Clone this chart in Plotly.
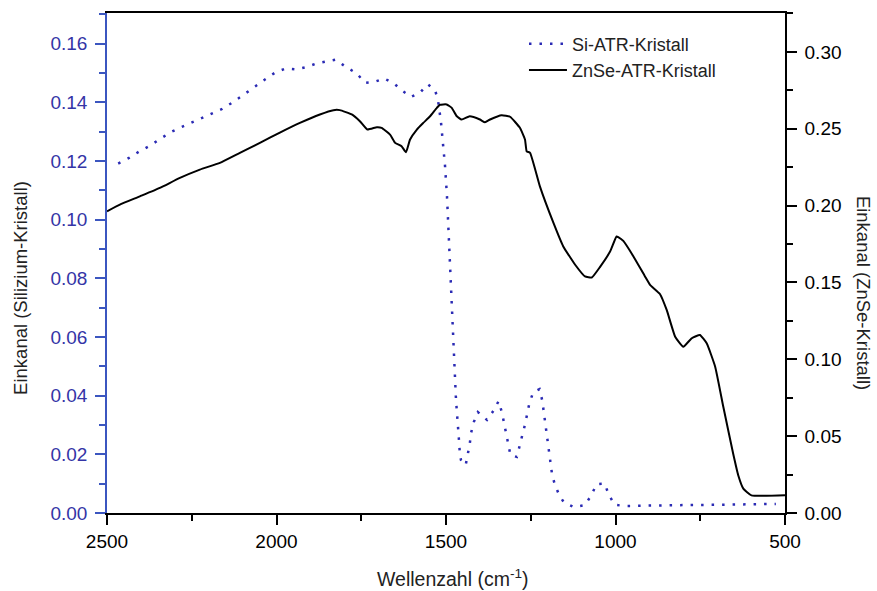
import plotly.graph_objects as go

# ---- data ----
si_wn = [2467, 2435, 2405, 2373, 2342, 2310, 2279, 2247, 2216, 2184, 2162, 2130, 2099, 2067,
         2036, 2004, 1973, 1942, 1911, 1880, 1847, 1825, 1795, 1763, 1739, 1712, 1682, 1652,
         1626, 1603, 1577, 1554, 1532, 1523, 1515, 1508, 1503, 1497, 1478, 1476, 1474, 1471,
         1469, 1466, 1462, 1460, 1456, 1442, 1435, 1430, 1426, 1418, 1406, 1379, 1359, 1345,
         1335, 1329, 1324, 1318, 1310, 1291, 1282, 1275, 1267, 1260, 1254, 1243, 1224, 1216,
         1212, 1208, 1203, 1199, 1196, 1192, 1187, 1178, 1165, 1152, 1122, 1090, 1071, 1056,
         1032, 1020, 1003, 973, 908, 800, 700, 600, 527]
si_val = [0.1191, 0.1210, 0.1232, 0.1252, 0.1276, 0.1299, 0.1316, 0.1331, 0.1348, 0.1365,
          0.1376, 0.1399, 0.1423, 0.1450, 0.1476, 0.1501, 0.1515, 0.1512, 0.1520, 0.1533,
          0.1540, 0.1545, 0.1520, 0.1498, 0.1466, 0.1469, 0.1481, 0.1462, 0.1437, 0.1418,
          0.1432, 0.1461, 0.1441, 0.1402, 0.1334, 0.1257, 0.1185, 0.1077, 0.0545, 0.0507,
          0.0435, 0.0398, 0.0362, 0.0326, 0.0253, 0.0217, 0.0181, 0.0163, 0.0200, 0.0235,
          0.0273, 0.0310, 0.0344, 0.0317, 0.0350, 0.0381, 0.0343, 0.0307, 0.0271, 0.0234,
          0.0198, 0.0191, 0.0228, 0.0265, 0.0301, 0.0338, 0.0374, 0.0411, 0.0422, 0.0383,
          0.0347, 0.0312, 0.0276, 0.0240, 0.0202, 0.0166, 0.0130, 0.0093, 0.0059, 0.0036,
          0.0020, 0.0027, 0.0061, 0.0098, 0.0100, 0.0063, 0.0028, 0.0024, 0.0026, 0.0027,
          0.0028, 0.0030, 0.0031]

znse_wn = [2500, 2462, 2403, 2344, 2285, 2226, 2167, 2108, 2049, 1990, 1931, 1872, 1832, 1813,
           1778, 1754, 1732, 1704, 1690, 1665, 1650, 1631, 1618, 1606, 1586, 1567, 1547, 1527,
           1518, 1498, 1483, 1468, 1454, 1430, 1400, 1385, 1370, 1336, 1311, 1282, 1267, 1262,
           1252, 1223, 1183, 1154, 1119, 1090, 1070, 1046, 1016, 997, 992, 977, 947, 913, 898,
           869, 849, 824, 800, 775, 751, 731, 706, 682, 653, 638, 623, 599, 500]
znse_val = [0.1963, 0.2006, 0.2060, 0.2115, 0.2180, 0.2234, 0.2278, 0.2343, 0.2408, 0.2475,
            0.2538, 0.2593, 0.2621, 0.2621, 0.2593, 0.2549, 0.2495, 0.2510, 0.2506, 0.2462,
            0.2408, 0.2386, 0.2347, 0.2430, 0.2495, 0.2538, 0.2581, 0.2636, 0.2656, 0.2658,
            0.2636, 0.2581, 0.2560, 0.2581, 0.2560, 0.2542, 0.2560, 0.2588, 0.2578, 0.2506,
            0.2430, 0.2353, 0.2343, 0.2125, 0.1887, 0.1734, 0.1615, 0.1539, 0.1532, 0.1600,
            0.1701, 0.1799, 0.1795, 0.1770, 0.1669, 0.1539, 0.1484, 0.1425, 0.1321, 0.1147,
            0.1082, 0.1137, 0.1158, 0.1104, 0.0952, 0.0691, 0.0387, 0.0246, 0.0159, 0.0115,
            0.0115]

x_ticks = [2500, 2000, 1500, 1000, 500]
y_left_ticks = [0.00, 0.02, 0.04, 0.06, 0.08, 0.10, 0.12, 0.14, 0.16]
y_right_ticks = [0.00, 0.05, 0.10, 0.15, 0.20, 0.25, 0.30]

FONT = "Liberation Sans, Arial, sans-serif"
BLUE_LINE = "#3b56c0"
BLUE_TEXT = "#3434a6"
DOT_BLUE = "#2a2ab4"

fig = go.Figure()
fig.add_trace(go.Scatter(x=si_wn, y=si_val, mode="lines", name="Si-ATR-Kristall",
                         line=dict(color=DOT_BLUE, width=2.5, dash="2.5px,8px"),
                         yaxis="y"))
fig.add_trace(go.Scatter(x=znse_wn, y=znse_val, mode="lines", name="ZnSe-ATR-Kristall",
                         line=dict(color="black", width=2, shape="spline", smoothing=0.4),
                         yaxis="y2"))

fig.update_layout(
    width=877, height=591,
    margin=dict(l=107, r=92, t=11, b=78),
    paper_bgcolor="white", plot_bgcolor="white",
    font=dict(family=FONT, size=18, color="black"),
    showlegend=True,
    legend=dict(x=0.615, y=0.975, xanchor="left", yanchor="top",
                bgcolor="rgba(0,0,0,0)", font=dict(size=18, color="#222"),
                tracegroupgap=0, itemwidth=38),
    xaxis=dict(range=[2500, 500], tickvals=x_ticks, ticktext=[str(v) for v in x_ticks],
               showgrid=False, zeroline=False, showline=True, linecolor="black", linewidth=1.5,
               mirror=True, ticks="outside", ticklen=10, tickwidth=1.5, tickcolor="black",
               tickfont=dict(size=19, color="black"), ticklabelstandoff=0,
               minor=dict(ticks="outside", ticklen=6, tickwidth=1.5, tickcolor="black", dtick=250,
                          tick0=500, showgrid=False)),
    yaxis=dict(range=[0, 0.1704], tickvals=y_left_ticks, tickformat=".2f",
               showgrid=False, zeroline=False, showline=True, linecolor=BLUE_LINE, linewidth=1.5,
               ticks="outside", ticklen=10, tickwidth=1.5, tickcolor=BLUE_LINE,
               tickfont=dict(size=19, color=BLUE_TEXT), ticklabelstandoff=4,
               minor=dict(ticks="outside", ticklen=6, tickwidth=1.5, tickcolor=BLUE_LINE,
                          dtick=0.01, tick0=0, showgrid=False)),
    yaxis2=dict(range=[0, 0.3253], tickvals=y_right_ticks, tickformat=".2f",
                overlaying="y", side="right",
                showgrid=False, zeroline=False, showline=True, linecolor="black", linewidth=1.5,
                ticks="outside", ticklen=10, tickwidth=1.5, tickcolor="black",
                tickfont=dict(size=19, color="black"), ticklabelstandoff=4,
                minor=dict(ticks="outside", ticklen=6, tickwidth=1.5, tickcolor="black",
                           dtick=0.025, tick0=0, showgrid=False)),
    annotations=[
        dict(text="Wellenzahl (cm<sup>-1</sup>)", xref="paper", yref="paper",
             x=(453 - 107) / 678, y=-(578 - 513) / 502, xanchor="center", yanchor="middle",
             showarrow=False, font=dict(size=19.5, color="#222")),
        dict(text="Einkanal (Silizium-Kristall)", xref="paper", yref="paper",
             x=(21 - 107) / 678, y=(513 - 287) / 502, xanchor="center", yanchor="middle",
             textangle=-90, showarrow=False, font=dict(size=18.5, color="#222")),
        dict(text="Einkanal (ZnSe-Kristall)", xref="paper", yref="paper",
             x=(863 - 107) / 678, y=(513 - 292) / 502, xanchor="center", yanchor="middle",
             textangle=90, showarrow=False, font=dict(size=18.5, color="#222")),
    ],
)

fig.write_html("out.html")
